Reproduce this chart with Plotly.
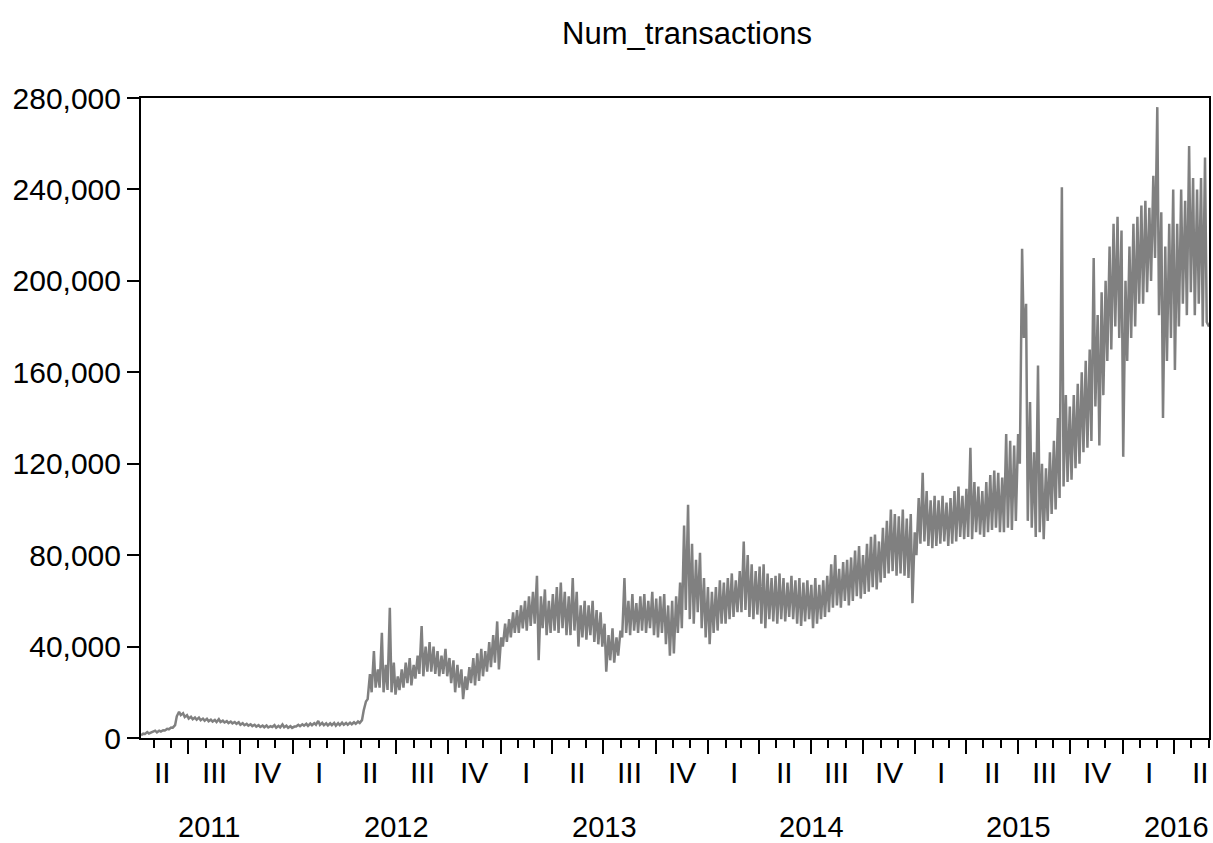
import pandas as pd
import plotly.graph_objects as go

# ---------------- data (values in thousands of transactions) ----------------
start_date = "2011-04-09"   # first observation (Saturday); one low/high pair per week
end_date = "2016-06-01"

# weekly troughs (weekend)
weekly_low = [
    # 2011 Apr-Dec
    1.2, 1.8, 2.0, 2.6,
    2.5, 2.8, 3.3, 3.8,
    4.5, 9.5, 10.0, 9.2,
    8.5, 8.2, 8.0, 7.8, 7.6,
    7.3, 7.2, 7.0, 7.0,
    6.8, 6.5, 6.4, 6.2,
    5.8, 5.6, 5.4, 5.2, 5.0,
    4.8, 4.7, 4.6, 4.8,
    4.5, 4.6, 4.7, 4.5, 4.4,
    # 2012
    5.0, 5.2, 5.4, 5.3,
    5.6, 5.8, 5.7, 5.6,
    5.5, 5.6, 5.4, 5.6, 5.8,
    5.8, 6.0, 6.2, 6.6,
    12, 17, 20, 22,
    22, 20, 21, 20, 19,
    21, 22, 24, 23,
    26, 28, 27, 29,
    29, 28, 27, 28, 27,
    24, 20, 22, 17,
    21, 24, 23, 25,
    27, 29, 31, 33, 30,
    # 2013
    40, 42, 44, 46,
    46, 48, 47, 49,
    50, 34, 48, 45, 46,
    47, 46, 48, 45,
    45, 47, 40, 44,
    43, 45, 42, 41, 40,
    29, 34, 33, 36,
    44, 46, 45, 47, 46,
    47, 46, 48, 45,
    44, 46, 41, 36,
    37, 46, 48, 56, 52,
    50, 55, 48, 44,
    # 2014
    41, 46, 47, 50,
    50, 52, 53, 55,
    55, 56, 53, 52, 54,
    50, 48, 52, 51,
    50, 52, 51, 53, 52,
    50, 49, 51, 52,
    48, 50, 52, 53,
    55, 57, 58, 57, 60,
    58, 60, 62, 61,
    63, 64, 66, 65,
    68, 70, 72, 73, 71,
    72, 71, 70, 59,
    # 2015
    80, 85, 86, 84, 83,
    84, 85, 86, 84,
    85, 86, 88, 87,
    88, 87, 90, 89,
    88, 90, 91, 92, 90,
    90, 92, 91, 95,
    120, 175, 95, 92,
    88, 90, 87, 95, 98,
    100, 105, 110, 112,
    113, 118, 120, 125, 127,
    130, 145, 128, 150,
    165, 170, 180, 175,
    # 2016 Jan-May
    123, 165, 175, 180, 190,
    190, 195, 200, 210,
    185, 140, 165, 175,
    161, 180, 190, 185, 195,
    185, 190, 180, 182,
]

# weekly peaks (midweek)
weekly_high = [
    # 2011 Apr-Dec
    1.9, 2.6, 2.5, 3.2,
    3.2, 3.4, 4.0, 4.6,
    5.6, 11.5, 10.8, 10.0,
    9.3, 9.0, 8.9, 8.5, 8.4,
    8.0, 7.9, 8.2, 7.6,
    7.4, 7.2, 7.0, 6.9,
    6.5, 6.2, 6.0, 5.8, 5.6,
    5.4, 5.5, 5.2, 5.6,
    5.3, 5.9, 5.4, 5.2, 5.0,
    # 2012
    5.8, 6.0, 6.2, 6.3,
    6.5, 7.5, 6.6, 6.4,
    6.4, 6.6, 6.5, 6.7, 6.6,
    6.7, 6.9, 7.2, 7.8,
    16, 28, 38, 30,
    46, 32, 57, 33, 27,
    30, 33, 35, 32,
    36, 49, 40, 42,
    40, 38, 36, 39, 35,
    34, 32, 30, 27,
    31, 35, 37, 39,
    38, 42, 45, 51, 44,
    # 2013
    50, 52, 55, 56,
    58, 60, 62, 64,
    71, 62, 65, 60, 63,
    66, 68, 64, 62,
    70, 64, 58, 60,
    58, 60, 56, 55, 50,
    45, 48, 44, 47,
    70, 60, 63, 59, 62,
    63, 60, 64, 61,
    62, 63, 58, 60,
    62, 68, 93, 102, 85,
    78, 81, 70, 66,
    # 2014
    64, 66, 69, 68,
    70, 72, 69, 73,
    86, 80, 76, 73, 75,
    76, 72, 70, 71,
    72, 70, 68, 71, 69,
    70, 68, 69, 67,
    70, 67, 69, 71,
    76, 80, 74, 77, 78,
    79, 82, 84, 80,
    85, 88, 89, 86,
    92, 95, 100, 98, 97,
    100, 96, 98, 90,
    # 2015
    105, 116, 108, 104, 106,
    104, 106, 103, 105,
    108, 110, 106, 109,
    127, 112, 110, 108,
    112, 115, 117, 116, 114,
    133, 130, 128, 133,
    214, 190, 147, 125,
    163, 120, 118, 125, 130,
    140, 241, 150, 145,
    150, 155, 160, 165, 170,
    210, 185, 195, 200,
    215, 225, 228, 222,
    # 2016 Jan-May
    200, 215, 225, 228, 233,
    235, 232, 246, 276,
    230, 215, 225, 240,
    225, 240, 235, 259, 245,
    240, 245, 254, 180,
]

quarter_labels = ["I", "II", "III", "IV"]
year_labels = [2011, 2012, 2013, 2014, 2015, 2016]
y_ticks = [0, 40000, 80000, 120000, 160000, 200000, 240000, 280000]

# ---------------- build the series ----------------
base = pd.Timestamp(start_date)
dates, values = [], []
for k, (lo, hi) in enumerate(zip(weekly_low, weekly_high)):
    dates.append(base + pd.Timedelta(days=7 * k))
    values.append(lo * 1000)
    dates.append(base + pd.Timedelta(days=7 * k + 4))
    values.append(hi * 1000)

x0 = pd.Timestamp(start_date)
x1 = pd.Timestamp(end_date)

# quarter label positions (middle of each quarter)
q_starts = pd.date_range("2011-04-01", "2016-04-01", freq="QS")
q_mid = [qs + (qs + pd.offsets.QuarterBegin(startingMonth=1) - qs) / 2 for qs in q_starts]
q_text = [quarter_labels[(qs.month - 1) // 3] for qs in q_starts]

# year label positions (middle of visible part of each year)
y_mid = []
for yr in year_labels:
    a = max(pd.Timestamp(f"{yr}-01-01"), x0)
    b = min(pd.Timestamp(f"{yr + 1}-01-01"), x1)
    m = a + (b - a) / 2
    if a == x0:
        m = m - pd.Timedelta(days=14)
    if b == x1:
        m = x1 - pd.Timedelta(days=58)
    y_mid.append(m)

FONT = "Liberation Sans, Arial, sans-serif"
GRAY = "rgb(128,128,128)"

fig = go.Figure()
fig.add_trace(go.Scatter(x=dates, y=values, mode="lines",
                         line=dict(color=GRAY, width=2.5), showlegend=False,
                         hoverinfo="skip"))

annotations = []
for xm, t in zip(q_mid, q_text):
    annotations.append(dict(x=xm, y=0, xref="x", yref="paper", text=t,
                            showarrow=False, xanchor="center", yanchor="middle",
                            yshift=-34, borderpad=0,
                            font=dict(family=FONT, size=30, color="black")))
for xm, t in zip(y_mid, year_labels):
    annotations.append(dict(x=xm, y=0, xref="x", yref="paper", text=str(t),
                            showarrow=False, xanchor="center", yanchor="middle",
                            yshift=-89, borderpad=0,
                            font=dict(family=FONT, size=29, color="black")))

fig.update_layout(
    width=1213, height=843,
    margin=dict(l=141, r=4, t=98, b=105),
    paper_bgcolor="white", plot_bgcolor="white",
    font=dict(family=FONT, color="black", size=30),
    title=dict(text="Num_transactions", x=687 / 1213, xanchor="center",
               y=1 - 33 / 843, yanchor="middle", yref="container",
               font=dict(family=FONT, size=31, color="black")),
    xaxis=dict(type="date", range=[x0, x1], showgrid=False, zeroline=False,
               automargin=False,
               showline=True, linecolor="black", linewidth=2, mirror=True,
               ticks="outside", tick0="2011-01-01", dtick="M3",
               ticklen=14, tickwidth=1.5, tickcolor="black",
               showticklabels=False,
               minor=dict(ticks="outside", dtick="M1", tick0="2011-01-01",
                          ticklen=8, tickwidth=1.5, tickcolor="black",
                          showgrid=False)),
    yaxis=dict(range=[0, 280000], showgrid=False, zeroline=False,
               automargin=False,
               showline=True, linecolor="black", linewidth=2, mirror=True,
               ticks="outside", ticklen=12, tickwidth=1.5, tickcolor="black",
               tickvals=y_ticks, tickformat=",d",
               tickfont=dict(family=FONT, size=30, color="black")),
    annotations=annotations,
)

fig.write_html("out.html")
